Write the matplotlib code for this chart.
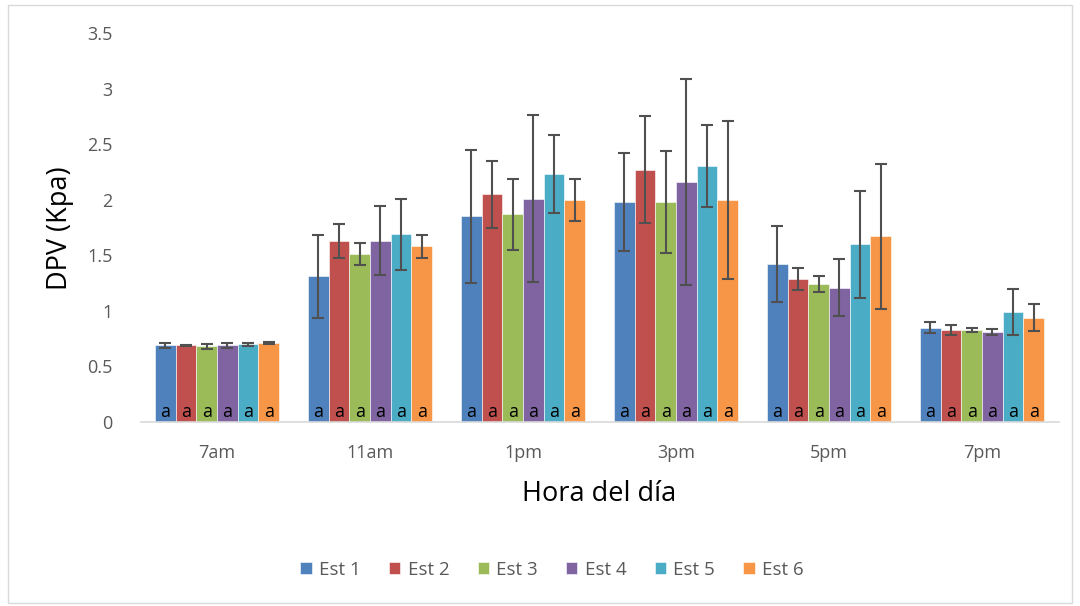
import matplotlib
matplotlib.use("Agg")
import matplotlib.pyplot as plt
import numpy as np
from matplotlib.patches import Rectangle

plt.rcParams['font.family'] = ['Open Sans', 'DejaVu Sans']

hours = ["7am", "11am", "1pm", "3pm", "5pm", "7pm"]
series = ["Est 1", "Est 2", "Est 3", "Est 4", "Est 5", "Est 6"]
colors = ["#4F81BD", "#C0504D", "#9BBB59", "#8064A2", "#4BACC6", "#F79646"]

est1 = [0.69, 1.31, 1.85, 1.98, 1.42, 0.85]
est2 = [0.69, 1.63, 2.05, 2.27, 1.29, 0.83]
est3 = [0.68, 1.51, 1.87, 1.98, 1.24, 0.83]
est4 = [0.69, 1.63, 2.01, 2.16, 1.21, 0.81]
est5 = [0.70, 1.69, 2.23, 2.30, 1.60, 0.99]
est6 = [0.71, 1.58, 2.00, 2.00, 1.67, 0.94]

err1 = [0.02, 0.37, 0.60, 0.44, 0.34, 0.05]
err2 = [0.005, 0.15, 0.30, 0.48, 0.10, 0.045]
err3 = [0.02, 0.10, 0.32, 0.46, 0.07, 0.02]
err4 = [0.025, 0.31, 0.75, 0.93, 0.26, 0.03]
err5 = [0.015, 0.32, 0.35, 0.37, 0.48, 0.21]
err6 = [0.01, 0.10, 0.19, 0.71, 0.65, 0.12]

letters = ["a"] * 6

values = [est1, est2, est3, est4, est5, est6]
errors = [err1, err2, err3, err4, err5, err6]

fig = plt.figure(figsize=(10.8, 6.06), dpi=100)
fig.patches.append(Rectangle((8/1080, 3/606), 1064/1080, 598/606, transform=fig.transFigure,
                             fill=False, edgecolor="#d9d9d9", linewidth=1))
ax = fig.add_axes([140.5/1080, 1 - 422/606, 918/1080, 389/606])

x = np.arange(len(hours))
n = len(series)
group_w = 0.81
bw = group_w / n
for i in range(n):
    pos = x - group_w/2 + bw*(i + 0.5)
    ax.bar(pos, values[i], width=bw, color=colors[i], edgecolor="white", linewidth=0.4,
           label=series[i], zorder=2)
    ax.errorbar(pos, values[i], yerr=errors[i], fmt="none", ecolor="#505050",
                elinewidth=1.5, capsize=4, capthick=1.5, zorder=3)
    for p in pos:
        ax.text(p, 0.01, letters[i], ha="center", va="bottom", fontsize=13, color="black",
                zorder=4)

ax.set_xlim(-0.5, len(hours) - 0.5)
ax.set_ylim(0, 3.5)
ax.set_yticks(np.arange(0, 3.51, 0.5))
ax.set_yticklabels(["0", "0.5", "1", "1.5", "2", "2.5", "3", "3.5"])
ax.set_xticks(x)
ax.set_xticklabels(hours)
for s in ["top", "right", "left"]:
    ax.spines[s].set_visible(False)
ax.spines["bottom"].set_color("#d9d9d9")
ax.spines["bottom"].set_linewidth(1.2)
ax.tick_params(axis="both", length=0, labelsize=13, labelcolor="#595959")
ax.tick_params(axis="y", pad=20)
ax.tick_params(axis="x", pad=16)

fig.text(60/1080, 1 - 228/606, "DPV (Kpa)", rotation=90, ha="center", va="center",
         fontsize=19.5, color="black")
fig.text(599.5/1080, 1 - 494/606, "Hora del día", ha="center", va="center",
         fontsize=19.5, color="black")

handles, labels = ax.get_legend_handles_labels()
fig.legend(handles, labels, loc="center", bbox_to_anchor=(552/1080, 1 - 570/606), ncol=6,
           frameon=False, fontsize=13.5, labelcolor="#595959", handlelength=0.6,
           handleheight=0.6, handletextpad=0.4, columnspacing=1.5)

fig.savefig("out.png", dpi=100)
